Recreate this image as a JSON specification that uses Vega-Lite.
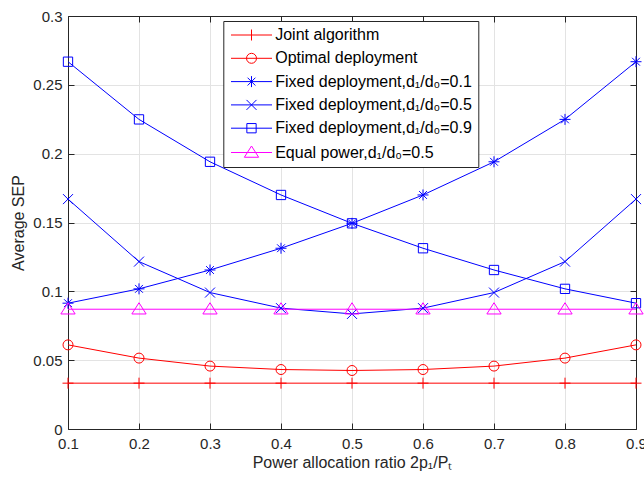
{
  "$schema": "https://vega.github.io/schema/vega-lite/v6.json",
  "width": 568,
  "height": 413,
  "autosize": {"type": "none"},
  "padding": {"left": 68, "top": 16, "right": 8, "bottom": 48},
  "background": "white",
  "config": {"font": "Liberation Sans", "view": {"stroke": null}},
  "data": {
    "values": [
      {"x": 0.1, "y": 0.0333, "s": "Joint algorithm"},
      {"x": 0.2, "y": 0.0333, "s": "Joint algorithm"},
      {"x": 0.3, "y": 0.0333, "s": "Joint algorithm"},
      {"x": 0.4, "y": 0.0333, "s": "Joint algorithm"},
      {"x": 0.5, "y": 0.0333, "s": "Joint algorithm"},
      {"x": 0.6, "y": 0.0333, "s": "Joint algorithm"},
      {"x": 0.7, "y": 0.0333, "s": "Joint algorithm"},
      {"x": 0.8, "y": 0.0333, "s": "Joint algorithm"},
      {"x": 0.9, "y": 0.0333, "s": "Joint algorithm"},
      {"x": 0.1, "y": 0.0611, "s": "Optimal deployment"},
      {"x": 0.2, "y": 0.0515, "s": "Optimal deployment"},
      {"x": 0.3, "y": 0.0457, "s": "Optimal deployment"},
      {"x": 0.4, "y": 0.0432, "s": "Optimal deployment"},
      {"x": 0.5, "y": 0.0425, "s": "Optimal deployment"},
      {"x": 0.6, "y": 0.0432, "s": "Optimal deployment"},
      {"x": 0.7, "y": 0.0457, "s": "Optimal deployment"},
      {"x": 0.8, "y": 0.0515, "s": "Optimal deployment"},
      {"x": 0.9, "y": 0.0611, "s": "Optimal deployment"},
      {"x": 0.1, "y": 0.0914, "s": "Fixed deployment,d₁/d₀=0.1"},
      {"x": 0.2, "y": 0.1018, "s": "Fixed deployment,d₁/d₀=0.1"},
      {"x": 0.3, "y": 0.1155, "s": "Fixed deployment,d₁/d₀=0.1"},
      {"x": 0.4, "y": 0.1313, "s": "Fixed deployment,d₁/d₀=0.1"},
      {"x": 0.5, "y": 0.1494, "s": "Fixed deployment,d₁/d₀=0.1"},
      {"x": 0.6, "y": 0.1700, "s": "Fixed deployment,d₁/d₀=0.1"},
      {"x": 0.7, "y": 0.1941, "s": "Fixed deployment,d₁/d₀=0.1"},
      {"x": 0.8, "y": 0.2249, "s": "Fixed deployment,d₁/d₀=0.1"},
      {"x": 0.9, "y": 0.2668, "s": "Fixed deployment,d₁/d₀=0.1"},
      {"x": 0.1, "y": 0.1670, "s": "Fixed deployment,d₁/d₀=0.5"},
      {"x": 0.2, "y": 0.1216, "s": "Fixed deployment,d₁/d₀=0.5"},
      {"x": 0.3, "y": 0.0991, "s": "Fixed deployment,d₁/d₀=0.5"},
      {"x": 0.4, "y": 0.0878, "s": "Fixed deployment,d₁/d₀=0.5"},
      {"x": 0.5, "y": 0.0836, "s": "Fixed deployment,d₁/d₀=0.5"},
      {"x": 0.6, "y": 0.0878, "s": "Fixed deployment,d₁/d₀=0.5"},
      {"x": 0.7, "y": 0.0991, "s": "Fixed deployment,d₁/d₀=0.5"},
      {"x": 0.8, "y": 0.1216, "s": "Fixed deployment,d₁/d₀=0.5"},
      {"x": 0.9, "y": 0.1670, "s": "Fixed deployment,d₁/d₀=0.5"},
      {"x": 0.1, "y": 0.2668, "s": "Fixed deployment,d₁/d₀=0.9"},
      {"x": 0.2, "y": 0.2249, "s": "Fixed deployment,d₁/d₀=0.9"},
      {"x": 0.3, "y": 0.1941, "s": "Fixed deployment,d₁/d₀=0.9"},
      {"x": 0.4, "y": 0.1700, "s": "Fixed deployment,d₁/d₀=0.9"},
      {"x": 0.5, "y": 0.1494, "s": "Fixed deployment,d₁/d₀=0.9"},
      {"x": 0.6, "y": 0.1313, "s": "Fixed deployment,d₁/d₀=0.9"},
      {"x": 0.7, "y": 0.1155, "s": "Fixed deployment,d₁/d₀=0.9"},
      {"x": 0.8, "y": 0.1018, "s": "Fixed deployment,d₁/d₀=0.9"},
      {"x": 0.9, "y": 0.0914, "s": "Fixed deployment,d₁/d₀=0.9"},
      {"x": 0.1, "y": 0.0870, "s": "Equal power,d₁/d₀=0.5"},
      {"x": 0.2, "y": 0.0870, "s": "Equal power,d₁/d₀=0.5"},
      {"x": 0.3, "y": 0.0870, "s": "Equal power,d₁/d₀=0.5"},
      {"x": 0.4, "y": 0.0870, "s": "Equal power,d₁/d₀=0.5"},
      {"x": 0.5, "y": 0.0870, "s": "Equal power,d₁/d₀=0.5"},
      {"x": 0.6, "y": 0.0870, "s": "Equal power,d₁/d₀=0.5"},
      {"x": 0.7, "y": 0.0870, "s": "Equal power,d₁/d₀=0.5"},
      {"x": 0.8, "y": 0.0870, "s": "Equal power,d₁/d₀=0.5"},
      {"x": 0.9, "y": 0.0870, "s": "Equal power,d₁/d₀=0.5"}
    ]
  },
  "layer": [
    {
      "mark": {"type": "line", "strokeWidth": 1},
      "encoding": {
        "x": {
          "field": "x", "type": "quantitative",
          "scale": {"domain": [0.1, 0.9], "nice": false, "zero": false},
          "axis": {
            "values": [0.1, 0.2, 0.3, 0.4, 0.5, 0.6, 0.7, 0.8, 0.9],
            "format": "~g",
            "title": "Power allocation ratio 2p₁/Pₜ",
            "grid": true, "gridColor": "#e3e3e3", "gridWidth": 1,
            "tickSize": -6, "tickColor": "#262626", "tickWidth": 1,
            "domainColor": "#262626", "domainWidth": 1,
            "labelPadding": 13.5, "labelFontSize": 15, "labelColor": "#262626",
            "labelFont": "Liberation Sans", "labelFlush": false, "labelOverlap": false,
            "titleFont": "Liberation Sans", "titleFontSize": 16, "titleFontWeight": "normal",
            "titleColor": "#262626", "titlePadding": 3
          }
        },
        "y": {
          "field": "y", "type": "quantitative",
          "scale": {"domain": [0, 0.3], "nice": false, "zero": false},
          "axis": {
            "values": [0, 0.05, 0.1, 0.15, 0.2, 0.25, 0.3],
            "format": "~g",
            "title": "Average SEP",
            "grid": true, "gridColor": "#e3e3e3", "gridWidth": 1,
            "tickSize": -6, "tickColor": "#262626", "tickWidth": 1,
            "domainColor": "#262626", "domainWidth": 1,
            "labelPadding": 12, "labelFontSize": 15, "labelColor": "#262626",
            "labelFont": "Liberation Sans", "labelFlush": false, "labelOverlap": false,
            "titleFont": "Liberation Sans", "titleFontSize": 16, "titleFontWeight": "normal",
            "titleColor": "#262626", "titlePadding": 6
          }
        },
        "color": {
          "field": "s", "type": "nominal",
          "scale": {
            "domain": ["Joint algorithm", "Optimal deployment", "Fixed deployment,d₁/d₀=0.1", "Fixed deployment,d₁/d₀=0.5", "Fixed deployment,d₁/d₀=0.9", "Equal power,d₁/d₀=0.5"],
            "range": ["#ff0000", "#ff0000", "#0000ff", "#0000ff", "#0000ff", "#ff00ff"]
          },
          "legend": {
            "orient": "none", "legendX": 155.3, "legendY": 5,
            "title": null, "direction": "vertical",
            "labelFont": "Liberation Sans", "labelFontSize": 16, "labelColor": "#000000",
            "labelLimit": 400, "padding": 6, "rowPadding": 7.3,
            "symbolOffset": 14.2, "labelOffset": 15.7,
            "fillColor": "#ffffff", "strokeColor": "#262626",
            "symbolSize": 100, "symbolStrokeWidth": 1,
            "encode": {
              "symbols": {
                "update": {
                  "shape": {"signal": "['M-4.1,0H4.1M0,-1.1V1.1', 'M-4.1,0H4.1M1,0A1,1 0 1,1 -1,0A1,1 0 1,1 1,0', 'M-4.1,0H4.1M0,-1.1V1.1M-0.78,-0.78L0.78,0.78M-0.78,0.78L0.78,-0.78', 'M-4.1,0H4.1M-1,-1L1,1M-1,1L1,-1', 'M-4.1,0H4.1M-0.93,-0.93H0.93V0.93H-0.93Z', 'M-4.1,0H4.1M0,-1.3L1.43,0.95L-1.43,0.95Z'][indexof(['Joint algorithm', 'Optimal deployment', 'Fixed deployment,d₁/d₀=0.1', 'Fixed deployment,d₁/d₀=0.5', 'Fixed deployment,d₁/d₀=0.9', 'Equal power,d₁/d₀=0.5'], datum.value)]"},
                  "fill": {"value": "transparent"},
                  "size": {"value": 100},
                  "strokeWidth": {"value": 1},
                  "opacity": {"value": 1}
                }
              }
            }
          }
        }
      }
    },
    {
      "transform": [{"filter": "datum.s == 'Joint algorithm'"}],
      "mark": {"type": "point", "shape": "M-1.1,0H1.1M0,-1.1V1.1", "filled": false, "strokeWidth": 1, "size": 100, "opacity": 1, "color": "#ff0000"},
      "encoding": {
        "x": {
          "field": "x", "type": "quantitative",
          "axis": {
            "orient": "top",
            "values": [0.1, 0.2, 0.3, 0.4, 0.5, 0.6, 0.7, 0.8, 0.9],
            "labels": false, "title": null, "grid": false,
            "tickSize": -6, "tickColor": "#262626", "tickWidth": 1,
            "domainColor": "#262626", "domainWidth": 1
          }
        },
        "y": {
          "field": "y", "type": "quantitative",
          "axis": {
            "orient": "right",
            "values": [0, 0.05, 0.1, 0.15, 0.2, 0.25, 0.3],
            "labels": false, "title": null, "grid": false,
            "tickSize": -6, "tickColor": "#262626", "tickWidth": 1,
            "domainColor": "#262626", "domainWidth": 1
          }
        }
      }
    },
    {
      "transform": [{"filter": "datum.s == 'Optimal deployment'"}],
      "mark": {"type": "point", "shape": "M1,0A1,1 0 1,1 -1,0A1,1 0 1,1 1,0", "filled": false, "strokeWidth": 1, "size": 100, "opacity": 1, "color": "#ff0000"},
      "encoding": {
        "x": {"field": "x", "type": "quantitative", "axis": null},
        "y": {"field": "y", "type": "quantitative", "axis": null}
      }
    },
    {
      "transform": [{"filter": "datum.s == 'Fixed deployment,d₁/d₀=0.1'"}],
      "mark": {"type": "point", "shape": "M-1.1,0H1.1M0,-1.1V1.1M-0.78,-0.78L0.78,0.78M-0.78,0.78L0.78,-0.78", "filled": false, "strokeWidth": 1, "size": 100, "opacity": 1, "color": "#0000ff"},
      "encoding": {
        "x": {"field": "x", "type": "quantitative", "axis": null},
        "y": {"field": "y", "type": "quantitative", "axis": null}
      }
    },
    {
      "transform": [{"filter": "datum.s == 'Fixed deployment,d₁/d₀=0.5'"}],
      "mark": {"type": "point", "shape": "M-1,-1L1,1M-1,1L1,-1", "filled": false, "strokeWidth": 1, "size": 100, "opacity": 1, "color": "#0000ff"},
      "encoding": {
        "x": {"field": "x", "type": "quantitative", "axis": null},
        "y": {"field": "y", "type": "quantitative", "axis": null}
      }
    },
    {
      "transform": [{"filter": "datum.s == 'Fixed deployment,d₁/d₀=0.9'"}],
      "mark": {"type": "point", "shape": "M-0.93,-0.93H0.93V0.93H-0.93Z", "filled": false, "strokeWidth": 1, "size": 100, "opacity": 1, "color": "#0000ff"},
      "encoding": {
        "x": {"field": "x", "type": "quantitative", "axis": null},
        "y": {"field": "y", "type": "quantitative", "axis": null}
      }
    },
    {
      "transform": [{"filter": "datum.s == 'Equal power,d₁/d₀=0.5'"}],
      "mark": {"type": "point", "shape": "M0,-1.3L1.43,0.95L-1.43,0.95Z", "filled": false, "strokeWidth": 1, "size": 100, "opacity": 1, "color": "#ff00ff"},
      "encoding": {
        "x": {"field": "x", "type": "quantitative", "axis": null},
        "y": {"field": "y", "type": "quantitative", "axis": null}
      }
    }
  ],
  "resolve": {"axis": {"x": "independent", "y": "independent"}}
}
